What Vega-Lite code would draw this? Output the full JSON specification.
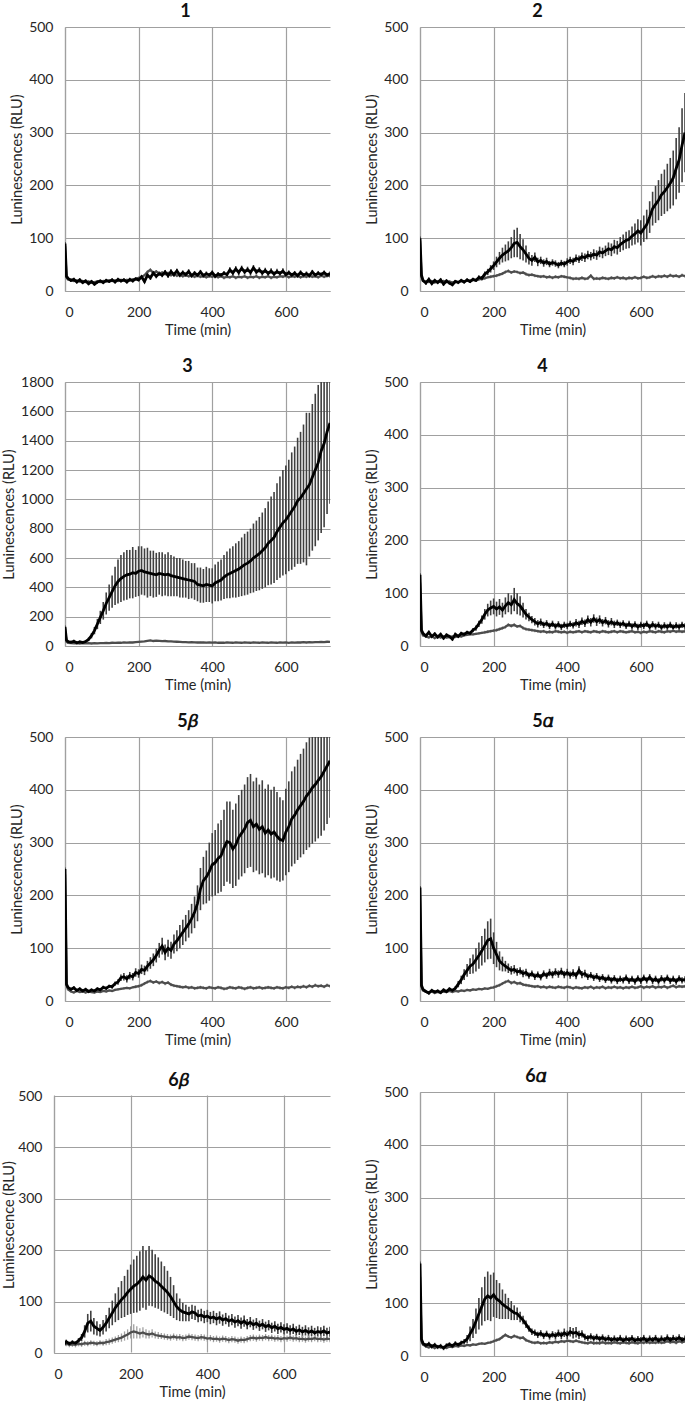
{
"$schema": "https://vega.github.io/schema/vega-lite/v6.json",
"padding": {"left": 1, "top": 3, "right": 0, "bottom": 0},
"config": {
 "view": {"stroke": null},
 "font": "Lato",
 "axis": {"grid": true, "gridColor": "#a0a0a0", "gridWidth": 1.2, "domainColor": "#a0a0a0", "domainWidth": 1.2, "ticks": false, "labelFont": "Lato", "labelFontSize": 14, "labelColor": "#262626", "labelOverlap": false, "titleFont": "Lato", "titleFontSize": 14.5, "titleFontWeight": "normal", "titleColor": "#262626"},
 "axisX": {"labelPadding": 14, "titlePadding": 4},
 "axisY": {"labelPadding": 12, "titlePadding": 4},
 "title": {"font": "Lato", "fontSize": 18, "fontWeight": "bold", "color": "#111111", "offset": -1, "anchor": "middle"}
},
"datasets": {
"p1": [
{"t":0,"m":90,"e":3,"g":85,"h":3},{"t":4,"m":28,"e":3,"g":26,"h":3},{"t":8,"m":24,"e":3,"g":22,"h":2},{"t":16,"m":20,"e":3,"g":21,"h":2},{"t":24,"m":22,"e":3,"g":19,"h":2},{"t":32,"m":17,"e":3,"g":20,"h":2},{"t":40,"m":21,"e":3,"g":18,"h":2},{"t":48,"m":16,"e":3,"g":19,"h":2},{"t":56,"m":19,"e":3,"g":17,"h":2},{"t":64,"m":14,"e":3,"g":18,"h":2},{"t":72,"m":18,"e":3,"g":16,"h":2},{"t":80,"m":13,"e":3,"g":17,"h":2},{"t":88,"m":17,"e":3,"g":18,"h":2},{"t":96,"m":19,"e":3,"g":17,"h":2},{"t":104,"m":16,"e":3,"g":19,"h":2},{"t":112,"m":20,"e":3,"g":18,"h":2},{"t":120,"m":18,"e":3,"g":20,"h":2},{"t":128,"m":21,"e":3,"g":19,"h":2},{"t":136,"m":17,"e":3,"g":20,"h":2},{"t":144,"m":22,"e":3,"g":19,"h":2},{"t":152,"m":19,"e":3,"g":21,"h":2},{"t":160,"m":21,"e":3,"g":20,"h":2},{"t":168,"m":17,"e":3,"g":21,"h":2},{"t":176,"m":22,"e":3,"g":20,"h":2},{"t":184,"m":19,"e":3,"g":22,"h":2},{"t":192,"m":23,"e":3,"g":23,"h":2},{"t":200,"m":21,"e":3,"g":25,"h":2},{"t":208,"m":27,"e":3,"g":26,"h":2},{"t":216,"m":18,"e":3,"g":30,"h":2},{"t":224,"m":30,"e":4,"g":36,"h":3},{"t":232,"m":25,"e":4,"g":40,"h":3},{"t":240,"m":34,"e":4,"g":34,"h":3},{"t":248,"m":28,"e":4,"g":37,"h":3},{"t":256,"m":33,"e":4,"g":33,"h":3},{"t":264,"m":30,"e":4,"g":35,"h":3},{"t":272,"m":36,"e":4,"g":32,"h":3},{"t":280,"m":29,"e":4,"g":34,"h":3},{"t":288,"m":37,"e":4,"g":30,"h":3},{"t":296,"m":31,"e":4,"g":32,"h":3},{"t":304,"m":38,"e":4,"g":29,"h":3},{"t":312,"m":30,"e":4,"g":31,"h":3},{"t":320,"m":35,"e":4,"g":28,"h":3},{"t":328,"m":31,"e":4,"g":30,"h":3},{"t":336,"m":37,"e":4,"g":28,"h":3},{"t":344,"m":29,"e":4,"g":29,"h":3},{"t":352,"m":34,"e":4,"g":27,"h":3},{"t":360,"m":30,"e":4,"g":29,"h":3},{"t":368,"m":36,"e":4,"g":27,"h":3},{"t":376,"m":29,"e":4,"g":28,"h":3},{"t":384,"m":33,"e":4,"g":26,"h":3},{"t":392,"m":30,"e":4,"g":28,"h":3},{"t":400,"m":35,"e":4,"g":27,"h":3},{"t":408,"m":28,"e":4,"g":29,"h":3},{"t":416,"m":32,"e":4,"g":26,"h":3},{"t":424,"m":30,"e":4,"g":28,"h":3},{"t":432,"m":34,"e":4,"g":25,"h":3},{"t":440,"m":31,"e":4,"g":27,"h":3},{"t":448,"m":40,"e":5,"g":26,"h":3},{"t":456,"m":34,"e":5,"g":28,"h":3},{"t":464,"m":42,"e":5,"g":25,"h":3},{"t":472,"m":35,"e":5,"g":27,"h":3},{"t":480,"m":43,"e":5,"g":26,"h":3},{"t":488,"m":36,"e":5,"g":28,"h":3},{"t":496,"m":41,"e":5,"g":25,"h":3},{"t":504,"m":35,"e":5,"g":27,"h":3},{"t":512,"m":44,"e":5,"g":26,"h":3},{"t":520,"m":36,"e":5,"g":28,"h":3},{"t":528,"m":40,"e":5,"g":25,"h":3},{"t":536,"m":34,"e":5,"g":27,"h":3},{"t":544,"m":39,"e":5,"g":26,"h":3},{"t":552,"m":33,"e":5,"g":28,"h":3},{"t":560,"m":38,"e":5,"g":25,"h":3},{"t":568,"m":32,"e":5,"g":27,"h":3},{"t":576,"m":37,"e":5,"g":26,"h":3},{"t":584,"m":33,"e":5,"g":28,"h":3},{"t":592,"m":38,"e":5,"g":27,"h":3},{"t":600,"m":31,"e":5,"g":29,"h":3},{"t":608,"m":35,"e":4,"g":26,"h":3},{"t":616,"m":30,"e":4,"g":28,"h":3},{"t":624,"m":34,"e":4,"g":27,"h":3},{"t":632,"m":29,"e":4,"g":29,"h":3},{"t":640,"m":35,"e":4,"g":26,"h":3},{"t":648,"m":30,"e":4,"g":28,"h":3},{"t":656,"m":33,"e":4,"g":27,"h":3},{"t":664,"m":29,"e":4,"g":29,"h":3},{"t":672,"m":36,"e":4,"g":27,"h":3},{"t":680,"m":30,"e":4,"g":28,"h":3},{"t":688,"m":34,"e":4,"g":26,"h":3},{"t":696,"m":31,"e":4,"g":29,"h":3},{"t":704,"m":35,"e":4,"g":27,"h":3},{"t":712,"m":30,"e":4,"g":29,"h":3},{"t":720,"m":33,"e":4,"g":28,"h":3}
],
"p2": [
{"t":0,"m":100,"e":3,"g":95,"h":3},{"t":4,"m":30,"e":3,"g":28,"h":3},{"t":8,"m":20,"e":3,"g":20,"h":2},{"t":16,"m":15,"e":3,"g":18,"h":2},{"t":24,"m":22,"e":3,"g":17,"h":2},{"t":32,"m":14,"e":3,"g":19,"h":2},{"t":40,"m":20,"e":3,"g":16,"h":2},{"t":48,"m":16,"e":3,"g":18,"h":2},{"t":56,"m":21,"e":3,"g":17,"h":2},{"t":64,"m":13,"e":3,"g":19,"h":2},{"t":72,"m":19,"e":3,"g":17,"h":2},{"t":80,"m":15,"e":3,"g":18,"h":2},{"t":88,"m":12,"e":3,"g":16,"h":2},{"t":96,"m":18,"e":3,"g":18,"h":2},{"t":104,"m":16,"e":3,"g":17,"h":2},{"t":112,"m":20,"e":3,"g":19,"h":2},{"t":120,"m":17,"e":3,"g":18,"h":2},{"t":128,"m":21,"e":3,"g":20,"h":2},{"t":136,"m":18,"e":3,"g":19,"h":2},{"t":144,"m":22,"e":3,"g":21,"h":2},{"t":152,"m":20,"e":3,"g":20,"h":2},{"t":160,"m":26,"e":4,"g":22,"h":2},{"t":168,"m":24,"e":4,"g":23,"h":2},{"t":176,"m":32,"e":5,"g":24,"h":2},{"t":184,"m":36,"e":6,"g":26,"h":2},{"t":192,"m":42,"e":7,"g":27,"h":3},{"t":200,"m":48,"e":8,"g":28,"h":3},{"t":208,"m":55,"e":10,"g":29,"h":3},{"t":216,"m":62,"e":12,"g":31,"h":3},{"t":224,"m":68,"e":14,"g":33,"h":3},{"t":232,"m":72,"e":16,"g":36,"h":3},{"t":240,"m":76,"e":18,"g":38,"h":3},{"t":248,"m":82,"e":20,"g":35,"h":3},{"t":256,"m":90,"e":26,"g":37,"h":3},{"t":264,"m":92,"e":28,"g":36,"h":3},{"t":272,"m":84,"e":24,"g":34,"h":3},{"t":280,"m":78,"e":20,"g":35,"h":3},{"t":288,"m":70,"e":16,"g":32,"h":3},{"t":296,"m":62,"e":12,"g":30,"h":3},{"t":304,"m":58,"e":10,"g":31,"h":3},{"t":312,"m":64,"e":9,"g":29,"h":3},{"t":320,"m":55,"e":8,"g":28,"h":3},{"t":328,"m":58,"e":7,"g":27,"h":3},{"t":336,"m":53,"e":7,"g":28,"h":3},{"t":344,"m":56,"e":7,"g":26,"h":3},{"t":352,"m":51,"e":6,"g":27,"h":3},{"t":360,"m":54,"e":6,"g":25,"h":3},{"t":368,"m":52,"e":6,"g":27,"h":3},{"t":376,"m":49,"e":6,"g":26,"h":3},{"t":384,"m":53,"e":6,"g":28,"h":3},{"t":392,"m":51,"e":6,"g":27,"h":3},{"t":400,"m":55,"e":7,"g":26,"h":3},{"t":408,"m":58,"e":7,"g":25,"h":3},{"t":416,"m":56,"e":7,"g":23,"h":3},{"t":424,"m":62,"e":7,"g":24,"h":3},{"t":432,"m":60,"e":7,"g":23,"h":3},{"t":440,"m":65,"e":8,"g":25,"h":3},{"t":448,"m":63,"e":8,"g":23,"h":3},{"t":456,"m":68,"e":8,"g":24,"h":3},{"t":464,"m":66,"e":8,"g":29,"h":3},{"t":472,"m":70,"e":9,"g":23,"h":3},{"t":480,"m":68,"e":9,"g":24,"h":3},{"t":488,"m":74,"e":10,"g":23,"h":3},{"t":496,"m":72,"e":10,"g":25,"h":3},{"t":504,"m":76,"e":10,"g":24,"h":3},{"t":512,"m":80,"e":12,"g":23,"h":3},{"t":520,"m":78,"e":12,"g":25,"h":3},{"t":528,"m":84,"e":13,"g":24,"h":3},{"t":536,"m":82,"e":13,"g":26,"h":3},{"t":544,"m":88,"e":14,"g":24,"h":3},{"t":552,"m":92,"e":15,"g":25,"h":3},{"t":560,"m":96,"e":16,"g":23,"h":3},{"t":568,"m":98,"e":17,"g":25,"h":3},{"t":576,"m":104,"e":18,"g":24,"h":3},{"t":584,"m":108,"e":20,"g":26,"h":3},{"t":592,"m":114,"e":22,"g":24,"h":3},{"t":600,"m":110,"e":24,"g":25,"h":3},{"t":608,"m":118,"e":25,"g":27,"h":3},{"t":616,"m":126,"e":28,"g":25,"h":3},{"t":624,"m":140,"e":30,"g":26,"h":3},{"t":632,"m":156,"e":32,"g":28,"h":3},{"t":640,"m":164,"e":35,"g":26,"h":3},{"t":648,"m":172,"e":38,"g":28,"h":3},{"t":656,"m":182,"e":40,"g":27,"h":3},{"t":664,"m":188,"e":42,"g":29,"h":3},{"t":672,"m":196,"e":45,"g":27,"h":3},{"t":680,"m":204,"e":48,"g":30,"h":3},{"t":688,"m":214,"e":52,"g":28,"h":3},{"t":696,"m":232,"e":58,"g":29,"h":3},{"t":704,"m":248,"e":62,"g":27,"h":3},{"t":712,"m":276,"e":70,"g":30,"h":3},{"t":720,"m":300,"e":75,"g":28,"h":3}
],
"p3": [
{"t":0,"m":130,"e":10,"g":120,"h":5},{"t":4,"m":40,"e":10,"g":30,"h":5},{"t":8,"m":30,"e":10,"g":22,"h":4},{"t":16,"m":25,"e":10,"g":20,"h":4},{"t":24,"m":32,"e":10,"g":18,"h":4},{"t":32,"m":22,"e":10,"g":20,"h":4},{"t":40,"m":28,"e":10,"g":17,"h":4},{"t":48,"m":24,"e":10,"g":19,"h":4},{"t":56,"m":30,"e":10,"g":18,"h":4},{"t":64,"m":45,"e":12,"g":20,"h":4},{"t":72,"m":70,"e":18,"g":17,"h":4},{"t":80,"m":105,"e":25,"g":19,"h":4},{"t":88,"m":150,"e":35,"g":18,"h":4},{"t":96,"m":195,"e":45,"g":20,"h":4},{"t":104,"m":240,"e":60,"g":19,"h":4},{"t":112,"m":290,"e":75,"g":21,"h":4},{"t":120,"m":330,"e":90,"g":20,"h":4},{"t":128,"m":370,"e":110,"g":22,"h":4},{"t":136,"m":410,"e":130,"g":21,"h":4},{"t":144,"m":440,"e":150,"g":23,"h":4},{"t":152,"m":460,"e":160,"g":22,"h":4},{"t":160,"m":475,"e":165,"g":24,"h":4},{"t":168,"m":485,"e":170,"g":23,"h":4},{"t":176,"m":490,"e":165,"g":25,"h":4},{"t":184,"m":500,"e":175,"g":24,"h":4},{"t":192,"m":495,"e":160,"g":26,"h":4},{"t":200,"m":510,"e":170,"g":28,"h":4},{"t":208,"m":515,"e":165,"g":30,"h":4},{"t":216,"m":505,"e":160,"g":32,"h":4},{"t":224,"m":500,"e":170,"g":35,"h":4},{"t":232,"m":495,"e":155,"g":38,"h":4},{"t":240,"m":490,"e":160,"g":34,"h":4},{"t":248,"m":485,"e":150,"g":36,"h":4},{"t":256,"m":495,"e":145,"g":35,"h":4},{"t":264,"m":490,"e":150,"g":33,"h":4},{"t":272,"m":485,"e":140,"g":34,"h":4},{"t":280,"m":490,"e":150,"g":32,"h":4},{"t":288,"m":480,"e":140,"g":31,"h":4},{"t":296,"m":475,"e":135,"g":30,"h":4},{"t":304,"m":470,"e":130,"g":29,"h":4},{"t":312,"m":465,"e":135,"g":28,"h":4},{"t":320,"m":460,"e":130,"g":27,"h":4},{"t":328,"m":455,"e":125,"g":26,"h":4},{"t":336,"m":450,"e":130,"g":25,"h":4},{"t":344,"m":445,"e":120,"g":26,"h":4},{"t":352,"m":440,"e":125,"g":25,"h":4},{"t":360,"m":420,"e":115,"g":24,"h":4},{"t":368,"m":415,"e":120,"g":25,"h":4},{"t":376,"m":410,"e":115,"g":24,"h":4},{"t":384,"m":420,"e":120,"g":23,"h":4},{"t":392,"m":415,"e":115,"g":24,"h":4},{"t":400,"m":410,"e":120,"g":23,"h":4},{"t":408,"m":430,"e":125,"g":24,"h":4},{"t":416,"m":440,"e":135,"g":22,"h":4},{"t":424,"m":450,"e":140,"g":23,"h":4},{"t":432,"m":470,"e":150,"g":22,"h":4},{"t":440,"m":485,"e":160,"g":24,"h":4},{"t":448,"m":495,"e":170,"g":23,"h":4},{"t":456,"m":505,"e":175,"g":22,"h":4},{"t":464,"m":515,"e":185,"g":24,"h":4},{"t":472,"m":525,"e":190,"g":23,"h":4},{"t":480,"m":540,"e":200,"g":22,"h":4},{"t":488,"m":555,"e":210,"g":24,"h":4},{"t":496,"m":565,"e":215,"g":23,"h":4},{"t":504,"m":580,"e":220,"g":22,"h":4},{"t":512,"m":600,"e":235,"g":24,"h":4},{"t":520,"m":615,"e":240,"g":23,"h":4},{"t":528,"m":630,"e":250,"g":22,"h":4},{"t":536,"m":650,"e":260,"g":24,"h":4},{"t":544,"m":670,"e":270,"g":23,"h":4},{"t":552,"m":700,"e":285,"g":22,"h":4},{"t":560,"m":720,"e":300,"g":24,"h":4},{"t":568,"m":740,"e":310,"g":23,"h":4},{"t":576,"m":780,"e":330,"g":22,"h":4},{"t":584,"m":810,"e":345,"g":24,"h":4},{"t":592,"m":840,"e":360,"g":23,"h":4},{"t":600,"m":860,"e":370,"g":24,"h":4},{"t":608,"m":890,"e":380,"g":22,"h":4},{"t":616,"m":920,"e":400,"g":24,"h":4},{"t":624,"m":950,"e":410,"g":23,"h":4},{"t":632,"m":990,"e":430,"g":25,"h":4},{"t":640,"m":1010,"e":450,"g":24,"h":4},{"t":648,"m":1040,"e":470,"g":26,"h":4},{"t":656,"m":1070,"e":520,"g":24,"h":4},{"t":664,"m":1100,"e":490,"g":26,"h":4},{"t":672,"m":1150,"e":500,"g":25,"h":4},{"t":680,"m":1200,"e":520,"g":27,"h":4},{"t":688,"m":1250,"e":530,"g":26,"h":4},{"t":696,"m":1330,"e":560,"g":28,"h":4},{"t":704,"m":1380,"e":570,"g":27,"h":4},{"t":712,"m":1460,"e":560,"g":29,"h":4},{"t":720,"m":1520,"e":550,"g":28,"h":4}
],
"p4": [
{"t":0,"m":135,"e":3,"g":120,"h":3},{"t":4,"m":30,"e":3,"g":28,"h":3},{"t":8,"m":24,"e":3,"g":20,"h":2},{"t":16,"m":19,"e":3,"g":18,"h":2},{"t":24,"m":26,"e":3,"g":16,"h":2},{"t":32,"m":18,"e":3,"g":19,"h":2},{"t":40,"m":23,"e":3,"g":15,"h":2},{"t":48,"m":17,"e":3,"g":18,"h":2},{"t":56,"m":22,"e":3,"g":16,"h":2},{"t":64,"m":15,"e":3,"g":18,"h":2},{"t":72,"m":21,"e":3,"g":16,"h":2},{"t":80,"m":18,"e":3,"g":17,"h":2},{"t":88,"m":13,"e":3,"g":18,"h":2},{"t":96,"m":22,"e":3,"g":17,"h":2},{"t":104,"m":18,"e":3,"g":19,"h":2},{"t":112,"m":24,"e":3,"g":18,"h":2},{"t":120,"m":22,"e":3,"g":20,"h":2},{"t":128,"m":26,"e":3,"g":21,"h":2},{"t":136,"m":24,"e":3,"g":22,"h":2},{"t":144,"m":30,"e":4,"g":22,"h":2},{"t":152,"m":34,"e":5,"g":23,"h":2},{"t":160,"m":42,"e":6,"g":24,"h":2},{"t":168,"m":50,"e":8,"g":25,"h":2},{"t":176,"m":60,"e":10,"g":26,"h":3},{"t":184,"m":68,"e":12,"g":27,"h":3},{"t":192,"m":72,"e":14,"g":28,"h":3},{"t":200,"m":75,"e":15,"g":29,"h":3},{"t":208,"m":70,"e":14,"g":30,"h":3},{"t":216,"m":74,"e":15,"g":32,"h":3},{"t":224,"m":68,"e":14,"g":34,"h":3},{"t":232,"m":76,"e":16,"g":36,"h":3},{"t":240,"m":82,"e":18,"g":40,"h":3},{"t":248,"m":78,"e":18,"g":38,"h":3},{"t":256,"m":88,"e":22,"g":40,"h":3},{"t":264,"m":80,"e":20,"g":37,"h":3},{"t":272,"m":76,"e":18,"g":38,"h":3},{"t":280,"m":68,"e":14,"g":34,"h":3},{"t":288,"m":60,"e":10,"g":32,"h":3},{"t":296,"m":55,"e":8,"g":31,"h":3},{"t":304,"m":50,"e":7,"g":30,"h":3},{"t":312,"m":46,"e":7,"g":29,"h":3},{"t":320,"m":42,"e":7,"g":28,"h":3},{"t":328,"m":45,"e":7,"g":27,"h":3},{"t":336,"m":40,"e":6,"g":28,"h":3},{"t":344,"m":43,"e":6,"g":26,"h":3},{"t":352,"m":38,"e":6,"g":27,"h":3},{"t":360,"m":42,"e":6,"g":26,"h":3},{"t":368,"m":37,"e":6,"g":28,"h":3},{"t":376,"m":41,"e":6,"g":27,"h":3},{"t":384,"m":36,"e":6,"g":26,"h":3},{"t":392,"m":40,"e":6,"g":27,"h":3},{"t":400,"m":38,"e":6,"g":25,"h":3},{"t":408,"m":42,"e":6,"g":27,"h":3},{"t":416,"m":39,"e":6,"g":26,"h":3},{"t":424,"m":44,"e":7,"g":27,"h":3},{"t":432,"m":41,"e":7,"g":28,"h":3},{"t":440,"m":47,"e":7,"g":26,"h":3},{"t":448,"m":43,"e":7,"g":28,"h":3},{"t":456,"m":50,"e":8,"g":27,"h":3},{"t":464,"m":45,"e":8,"g":26,"h":3},{"t":472,"m":52,"e":8,"g":28,"h":3},{"t":480,"m":46,"e":8,"g":27,"h":3},{"t":488,"m":50,"e":8,"g":26,"h":3},{"t":496,"m":44,"e":7,"g":28,"h":3},{"t":504,"m":48,"e":7,"g":27,"h":3},{"t":512,"m":42,"e":7,"g":26,"h":3},{"t":520,"m":46,"e":7,"g":27,"h":3},{"t":528,"m":41,"e":7,"g":28,"h":3},{"t":536,"m":44,"e":6,"g":26,"h":3},{"t":544,"m":40,"e":6,"g":28,"h":3},{"t":552,"m":43,"e":6,"g":27,"h":3},{"t":560,"m":38,"e":6,"g":26,"h":3},{"t":568,"m":42,"e":6,"g":27,"h":3},{"t":576,"m":37,"e":6,"g":28,"h":3},{"t":584,"m":41,"e":6,"g":26,"h":3},{"t":592,"m":36,"e":6,"g":27,"h":3},{"t":600,"m":40,"e":6,"g":25,"h":3},{"t":608,"m":38,"e":6,"g":27,"h":3},{"t":616,"m":42,"e":6,"g":26,"h":3},{"t":624,"m":36,"e":6,"g":28,"h":3},{"t":632,"m":41,"e":6,"g":27,"h":3},{"t":640,"m":37,"e":6,"g":26,"h":3},{"t":648,"m":40,"e":6,"g":28,"h":3},{"t":656,"m":35,"e":6,"g":27,"h":3},{"t":664,"m":39,"e":6,"g":26,"h":3},{"t":672,"m":36,"e":6,"g":28,"h":3},{"t":680,"m":40,"e":6,"g":27,"h":3},{"t":688,"m":35,"e":6,"g":29,"h":3},{"t":696,"m":39,"e":6,"g":27,"h":3},{"t":704,"m":36,"e":6,"g":28,"h":3},{"t":712,"m":40,"e":6,"g":27,"h":3},{"t":720,"m":37,"e":6,"g":28,"h":3}
],
"p5b": [
{"t":0,"m":250,"e":3,"g":240,"h":3},{"t":4,"m":32,"e":3,"g":30,"h":3},{"t":8,"m":26,"e":3,"g":22,"h":2},{"t":16,"m":22,"e":3,"g":18,"h":2},{"t":24,"m":25,"e":3,"g":16,"h":2},{"t":32,"m":20,"e":3,"g":19,"h":2},{"t":40,"m":23,"e":3,"g":17,"h":2},{"t":48,"m":19,"e":3,"g":18,"h":2},{"t":56,"m":22,"e":3,"g":16,"h":2},{"t":64,"m":18,"e":3,"g":18,"h":2},{"t":72,"m":21,"e":3,"g":17,"h":2},{"t":80,"m":19,"e":3,"g":16,"h":2},{"t":88,"m":23,"e":3,"g":18,"h":2},{"t":96,"m":21,"e":3,"g":17,"h":2},{"t":104,"m":26,"e":3,"g":19,"h":2},{"t":112,"m":24,"e":3,"g":18,"h":2},{"t":120,"m":28,"e":3,"g":20,"h":2},{"t":128,"m":27,"e":4,"g":19,"h":2},{"t":136,"m":33,"e":4,"g":21,"h":2},{"t":144,"m":36,"e":5,"g":22,"h":2},{"t":152,"m":44,"e":6,"g":23,"h":2},{"t":160,"m":46,"e":7,"g":24,"h":2},{"t":168,"m":42,"e":7,"g":25,"h":2},{"t":176,"m":48,"e":7,"g":24,"h":2},{"t":184,"m":46,"e":7,"g":26,"h":2},{"t":192,"m":54,"e":8,"g":27,"h":3},{"t":200,"m":52,"e":8,"g":28,"h":3},{"t":208,"m":60,"e":9,"g":30,"h":3},{"t":216,"m":58,"e":9,"g":33,"h":3},{"t":224,"m":66,"e":10,"g":36,"h":3},{"t":232,"m":72,"e":11,"g":38,"h":3},{"t":240,"m":78,"e":12,"g":35,"h":3},{"t":248,"m":86,"e":13,"g":37,"h":3},{"t":256,"m":96,"e":14,"g":34,"h":3},{"t":264,"m":104,"e":16,"g":36,"h":3},{"t":272,"m":92,"e":15,"g":33,"h":3},{"t":280,"m":100,"e":16,"g":35,"h":3},{"t":288,"m":96,"e":16,"g":31,"h":3},{"t":296,"m":108,"e":18,"g":29,"h":3},{"t":304,"m":114,"e":20,"g":28,"h":3},{"t":312,"m":122,"e":22,"g":27,"h":3},{"t":320,"m":130,"e":24,"g":26,"h":3},{"t":328,"m":138,"e":25,"g":27,"h":3},{"t":336,"m":146,"e":26,"g":25,"h":3},{"t":344,"m":156,"e":28,"g":26,"h":3},{"t":352,"m":168,"e":30,"g":24,"h":3},{"t":360,"m":185,"e":34,"g":25,"h":3},{"t":368,"m":212,"e":40,"g":26,"h":3},{"t":376,"m":228,"e":45,"g":25,"h":3},{"t":384,"m":235,"e":50,"g":24,"h":3},{"t":392,"m":245,"e":55,"g":26,"h":3},{"t":400,"m":258,"e":60,"g":25,"h":3},{"t":408,"m":262,"e":62,"g":24,"h":3},{"t":416,"m":270,"e":66,"g":26,"h":3},{"t":424,"m":275,"e":68,"g":25,"h":3},{"t":432,"m":290,"e":72,"g":23,"h":3},{"t":440,"m":302,"e":76,"g":24,"h":3},{"t":448,"m":300,"e":78,"g":26,"h":3},{"t":456,"m":288,"e":74,"g":25,"h":3},{"t":464,"m":296,"e":78,"g":24,"h":3},{"t":472,"m":310,"e":80,"g":26,"h":3},{"t":480,"m":318,"e":82,"g":25,"h":3},{"t":488,"m":326,"e":84,"g":23,"h":3},{"t":496,"m":338,"e":86,"g":25,"h":3},{"t":504,"m":342,"e":88,"g":26,"h":3},{"t":512,"m":330,"e":86,"g":24,"h":3},{"t":520,"m":335,"e":88,"g":25,"h":3},{"t":528,"m":325,"e":85,"g":26,"h":3},{"t":536,"m":330,"e":88,"g":24,"h":3},{"t":544,"m":318,"e":84,"g":25,"h":3},{"t":552,"m":324,"e":86,"g":26,"h":3},{"t":560,"m":316,"e":84,"g":25,"h":3},{"t":568,"m":320,"e":86,"g":24,"h":3},{"t":576,"m":312,"e":84,"g":26,"h":3},{"t":584,"m":306,"e":80,"g":25,"h":3},{"t":592,"m":304,"e":76,"g":24,"h":3},{"t":600,"m":320,"e":82,"g":26,"h":3},{"t":608,"m":330,"e":86,"g":25,"h":3},{"t":616,"m":345,"e":90,"g":27,"h":3},{"t":624,"m":352,"e":92,"g":25,"h":3},{"t":632,"m":362,"e":95,"g":27,"h":3},{"t":640,"m":370,"e":98,"g":26,"h":3},{"t":648,"m":378,"e":100,"g":28,"h":3},{"t":656,"m":388,"e":102,"g":26,"h":3},{"t":664,"m":395,"e":104,"g":29,"h":3},{"t":672,"m":404,"e":106,"g":27,"h":3},{"t":680,"m":410,"e":108,"g":30,"h":3},{"t":688,"m":418,"e":110,"g":28,"h":3},{"t":696,"m":425,"e":112,"g":29,"h":3},{"t":704,"m":435,"e":112,"g":27,"h":3},{"t":712,"m":445,"e":110,"g":30,"h":3},{"t":720,"m":455,"e":108,"g":28,"h":3}
],
"p5a": [
{"t":0,"m":215,"e":3,"g":200,"h":3},{"t":4,"m":30,"e":3,"g":28,"h":3},{"t":8,"m":22,"e":3,"g":20,"h":2},{"t":16,"m":18,"e":3,"g":17,"h":2},{"t":24,"m":15,"e":3,"g":16,"h":2},{"t":32,"m":20,"e":3,"g":18,"h":2},{"t":40,"m":17,"e":3,"g":15,"h":2},{"t":48,"m":19,"e":3,"g":17,"h":2},{"t":56,"m":16,"e":3,"g":16,"h":2},{"t":64,"m":21,"e":3,"g":18,"h":2},{"t":72,"m":18,"e":3,"g":17,"h":2},{"t":80,"m":23,"e":3,"g":19,"h":2},{"t":88,"m":20,"e":3,"g":17,"h":2},{"t":96,"m":24,"e":4,"g":19,"h":2},{"t":104,"m":32,"e":6,"g":18,"h":2},{"t":112,"m":40,"e":8,"g":20,"h":2},{"t":120,"m":50,"e":10,"g":19,"h":2},{"t":128,"m":58,"e":12,"g":21,"h":2},{"t":136,"m":66,"e":15,"g":20,"h":2},{"t":144,"m":70,"e":18,"g":22,"h":2},{"t":152,"m":78,"e":22,"g":21,"h":2},{"t":160,"m":86,"e":25,"g":23,"h":2},{"t":168,"m":95,"e":28,"g":22,"h":2},{"t":176,"m":105,"e":32,"g":24,"h":2},{"t":184,"m":115,"e":36,"g":23,"h":2},{"t":192,"m":118,"e":38,"g":25,"h":2},{"t":200,"m":100,"e":30,"g":26,"h":3},{"t":208,"m":88,"e":24,"g":28,"h":3},{"t":216,"m":76,"e":18,"g":30,"h":3},{"t":224,"m":70,"e":14,"g":33,"h":3},{"t":232,"m":66,"e":10,"g":36,"h":3},{"t":240,"m":62,"e":9,"g":38,"h":3},{"t":248,"m":58,"e":8,"g":34,"h":3},{"t":256,"m":60,"e":8,"g":36,"h":3},{"t":264,"m":55,"e":7,"g":33,"h":3},{"t":272,"m":57,"e":7,"g":34,"h":3},{"t":280,"m":52,"e":7,"g":31,"h":3},{"t":288,"m":54,"e":7,"g":30,"h":3},{"t":296,"m":48,"e":6,"g":29,"h":3},{"t":304,"m":52,"e":6,"g":28,"h":3},{"t":312,"m":46,"e":6,"g":27,"h":3},{"t":320,"m":50,"e":6,"g":28,"h":3},{"t":328,"m":45,"e":6,"g":26,"h":3},{"t":336,"m":52,"e":6,"g":27,"h":3},{"t":344,"m":48,"e":6,"g":25,"h":3},{"t":352,"m":54,"e":7,"g":27,"h":3},{"t":360,"m":50,"e":7,"g":26,"h":3},{"t":368,"m":55,"e":7,"g":25,"h":3},{"t":376,"m":51,"e":7,"g":27,"h":3},{"t":384,"m":56,"e":7,"g":26,"h":3},{"t":392,"m":50,"e":7,"g":25,"h":3},{"t":400,"m":54,"e":7,"g":27,"h":3},{"t":408,"m":49,"e":7,"g":26,"h":3},{"t":416,"m":53,"e":7,"g":24,"h":3},{"t":424,"m":48,"e":7,"g":26,"h":3},{"t":432,"m":58,"e":8,"g":25,"h":3},{"t":440,"m":50,"e":7,"g":24,"h":3},{"t":448,"m":52,"e":7,"g":26,"h":3},{"t":456,"m":46,"e":6,"g":25,"h":3},{"t":464,"m":49,"e":6,"g":27,"h":3},{"t":472,"m":44,"e":6,"g":24,"h":3},{"t":480,"m":47,"e":6,"g":26,"h":3},{"t":488,"m":42,"e":6,"g":25,"h":3},{"t":496,"m":45,"e":6,"g":27,"h":3},{"t":504,"m":40,"e":6,"g":24,"h":3},{"t":512,"m":44,"e":6,"g":26,"h":3},{"t":520,"m":39,"e":6,"g":25,"h":3},{"t":528,"m":43,"e":6,"g":27,"h":3},{"t":536,"m":38,"e":6,"g":25,"h":3},{"t":544,"m":42,"e":6,"g":26,"h":3},{"t":552,"m":39,"e":6,"g":24,"h":3},{"t":560,"m":44,"e":6,"g":26,"h":3},{"t":568,"m":38,"e":6,"g":25,"h":3},{"t":576,"m":42,"e":6,"g":27,"h":3},{"t":584,"m":37,"e":6,"g":25,"h":3},{"t":592,"m":43,"e":6,"g":26,"h":3},{"t":600,"m":38,"e":6,"g":28,"h":3},{"t":608,"m":44,"e":6,"g":25,"h":3},{"t":616,"m":39,"e":6,"g":27,"h":3},{"t":624,"m":45,"e":6,"g":26,"h":3},{"t":632,"m":38,"e":6,"g":28,"h":3},{"t":640,"m":42,"e":6,"g":25,"h":3},{"t":648,"m":37,"e":6,"g":27,"h":3},{"t":656,"m":43,"e":6,"g":26,"h":3},{"t":664,"m":39,"e":6,"g":28,"h":3},{"t":672,"m":44,"e":6,"g":25,"h":3},{"t":680,"m":38,"e":6,"g":27,"h":3},{"t":688,"m":42,"e":6,"g":29,"h":3},{"t":696,"m":37,"e":6,"g":26,"h":3},{"t":704,"m":43,"e":6,"g":28,"h":3},{"t":712,"m":39,"e":6,"g":27,"h":3},{"t":720,"m":41,"e":6,"g":28,"h":3}
],
"p6b": [
{"t":0,"m":145,"e":4,"g":100,"h":6},{"t":4,"m":30,"e":4,"g":28,"h":6},{"t":8,"m":24,"e":4,"g":20,"h":5},{"t":16,"m":20,"e":4,"g":17,"h":5},{"t":24,"m":16,"e":4,"g":15,"h":5},{"t":32,"m":22,"e":4,"g":18,"h":5},{"t":40,"m":18,"e":4,"g":16,"h":5},{"t":48,"m":21,"e":4,"g":17,"h":5},{"t":56,"m":19,"e":4,"g":16,"h":5},{"t":64,"m":24,"e":5,"g":18,"h":5},{"t":72,"m":30,"e":7,"g":17,"h":5},{"t":80,"m":42,"e":12,"g":19,"h":5},{"t":88,"m":58,"e":18,"g":18,"h":5},{"t":96,"m":62,"e":20,"g":20,"h":5},{"t":104,"m":52,"e":16,"g":19,"h":5},{"t":112,"m":48,"e":14,"g":18,"h":5},{"t":120,"m":44,"e":12,"g":20,"h":5},{"t":128,"m":50,"e":14,"g":19,"h":5},{"t":136,"m":58,"e":16,"g":21,"h":6},{"t":144,"m":68,"e":20,"g":22,"h":6},{"t":152,"m":78,"e":24,"g":24,"h":6},{"t":160,"m":88,"e":28,"g":26,"h":6},{"t":168,"m":96,"e":32,"g":28,"h":7},{"t":176,"m":104,"e":36,"g":30,"h":8},{"t":184,"m":110,"e":40,"g":33,"h":9},{"t":192,"m":118,"e":44,"g":36,"h":10},{"t":200,"m":124,"e":48,"g":40,"h":12},{"t":208,"m":130,"e":52,"g":42,"h":14},{"t":216,"m":134,"e":55,"g":40,"h":12},{"t":224,"m":140,"e":58,"g":38,"h":10},{"t":232,"m":148,"e":60,"g":40,"h":10},{"t":240,"m":142,"e":58,"g":37,"h":9},{"t":248,"m":150,"e":58,"g":36,"h":8},{"t":256,"m":146,"e":55,"g":38,"h":8},{"t":264,"m":140,"e":52,"g":35,"h":7},{"t":272,"m":136,"e":50,"g":34,"h":7},{"t":280,"m":130,"e":48,"g":33,"h":6},{"t":288,"m":124,"e":45,"g":32,"h":6},{"t":296,"m":118,"e":42,"g":31,"h":6},{"t":304,"m":110,"e":38,"g":30,"h":6},{"t":312,"m":100,"e":32,"g":32,"h":6},{"t":320,"m":90,"e":26,"g":30,"h":6},{"t":328,"m":84,"e":22,"g":31,"h":6},{"t":336,"m":80,"e":18,"g":29,"h":6},{"t":344,"m":78,"e":16,"g":30,"h":6},{"t":352,"m":76,"e":14,"g":32,"h":6},{"t":360,"m":80,"e":14,"g":31,"h":6},{"t":368,"m":78,"e":14,"g":30,"h":6},{"t":376,"m":72,"e":12,"g":29,"h":6},{"t":384,"m":74,"e":12,"g":31,"h":6},{"t":392,"m":70,"e":12,"g":30,"h":6},{"t":400,"m":72,"e":12,"g":28,"h":6},{"t":408,"m":68,"e":12,"g":29,"h":6},{"t":416,"m":70,"e":12,"g":27,"h":6},{"t":424,"m":66,"e":12,"g":28,"h":6},{"t":432,"m":69,"e":12,"g":26,"h":6},{"t":440,"m":64,"e":11,"g":28,"h":6},{"t":448,"m":67,"e":11,"g":27,"h":6},{"t":456,"m":62,"e":11,"g":25,"h":6},{"t":464,"m":65,"e":11,"g":27,"h":6},{"t":472,"m":60,"e":11,"g":26,"h":6},{"t":480,"m":63,"e":11,"g":24,"h":6},{"t":488,"m":58,"e":11,"g":26,"h":6},{"t":496,"m":62,"e":11,"g":25,"h":6},{"t":504,"m":56,"e":10,"g":27,"h":6},{"t":512,"m":60,"e":10,"g":29,"h":6},{"t":520,"m":55,"e":10,"g":30,"h":6},{"t":528,"m":58,"e":10,"g":28,"h":6},{"t":536,"m":53,"e":10,"g":30,"h":6},{"t":544,"m":56,"e":10,"g":29,"h":6},{"t":552,"m":51,"e":10,"g":31,"h":6},{"t":560,"m":54,"e":10,"g":29,"h":6},{"t":568,"m":49,"e":10,"g":30,"h":6},{"t":576,"m":52,"e":10,"g":28,"h":6},{"t":584,"m":47,"e":10,"g":29,"h":6},{"t":592,"m":50,"e":10,"g":27,"h":6},{"t":600,"m":46,"e":10,"g":29,"h":6},{"t":608,"m":48,"e":10,"g":28,"h":6},{"t":616,"m":44,"e":10,"g":30,"h":6},{"t":624,"m":47,"e":10,"g":28,"h":6},{"t":632,"m":42,"e":10,"g":29,"h":6},{"t":640,"m":45,"e":10,"g":27,"h":6},{"t":648,"m":41,"e":10,"g":28,"h":6},{"t":656,"m":44,"e":10,"g":26,"h":6},{"t":664,"m":40,"e":10,"g":28,"h":6},{"t":672,"m":43,"e":10,"g":27,"h":6},{"t":680,"m":39,"e":10,"g":29,"h":6},{"t":688,"m":42,"e":10,"g":27,"h":6},{"t":696,"m":40,"e":10,"g":28,"h":6},{"t":704,"m":43,"e":10,"g":26,"h":6},{"t":712,"m":39,"e":10,"g":28,"h":6},{"t":720,"m":41,"e":10,"g":27,"h":6}
],
"p6a": [
{"t":0,"m":175,"e":4,"g":150,"h":3},{"t":4,"m":32,"e":4,"g":28,"h":3},{"t":8,"m":24,"e":4,"g":22,"h":2},{"t":16,"m":20,"e":4,"g":18,"h":2},{"t":24,"m":23,"e":4,"g":16,"h":2},{"t":32,"m":18,"e":4,"g":19,"h":2},{"t":40,"m":21,"e":4,"g":15,"h":2},{"t":48,"m":17,"e":4,"g":18,"h":2},{"t":56,"m":19,"e":4,"g":16,"h":2},{"t":64,"m":15,"e":4,"g":17,"h":2},{"t":72,"m":20,"e":4,"g":15,"h":2},{"t":80,"m":22,"e":4,"g":18,"h":2},{"t":88,"m":19,"e":4,"g":17,"h":2},{"t":96,"m":24,"e":4,"g":19,"h":2},{"t":104,"m":21,"e":4,"g":18,"h":2},{"t":112,"m":25,"e":4,"g":20,"h":2},{"t":120,"m":27,"e":5,"g":19,"h":2},{"t":128,"m":32,"e":8,"g":21,"h":2},{"t":136,"m":42,"e":14,"g":20,"h":2},{"t":144,"m":52,"e":18,"g":22,"h":2},{"t":152,"m":66,"e":24,"g":21,"h":2},{"t":160,"m":80,"e":30,"g":23,"h":2},{"t":168,"m":94,"e":36,"g":24,"h":2},{"t":176,"m":108,"e":42,"g":23,"h":2},{"t":184,"m":114,"e":46,"g":25,"h":2},{"t":192,"m":110,"e":44,"g":26,"h":3},{"t":200,"m":116,"e":42,"g":28,"h":3},{"t":208,"m":108,"e":36,"g":30,"h":3},{"t":216,"m":104,"e":34,"g":32,"h":3},{"t":224,"m":98,"e":28,"g":36,"h":3},{"t":232,"m":94,"e":24,"g":40,"h":3},{"t":240,"m":90,"e":20,"g":37,"h":3},{"t":248,"m":86,"e":18,"g":35,"h":3},{"t":256,"m":82,"e":14,"g":38,"h":3},{"t":264,"m":80,"e":12,"g":36,"h":3},{"t":272,"m":74,"e":10,"g":34,"h":3},{"t":280,"m":68,"e":8,"g":35,"h":3},{"t":288,"m":60,"e":7,"g":30,"h":3},{"t":296,"m":52,"e":6,"g":28,"h":3},{"t":304,"m":46,"e":6,"g":26,"h":3},{"t":312,"m":44,"e":6,"g":25,"h":3},{"t":320,"m":40,"e":6,"g":26,"h":3},{"t":328,"m":43,"e":6,"g":24,"h":3},{"t":336,"m":38,"e":6,"g":25,"h":3},{"t":344,"m":42,"e":6,"g":24,"h":3},{"t":352,"m":37,"e":6,"g":26,"h":3},{"t":360,"m":41,"e":6,"g":25,"h":3},{"t":368,"m":38,"e":7,"g":27,"h":3},{"t":376,"m":43,"e":7,"g":26,"h":3},{"t":384,"m":39,"e":7,"g":28,"h":3},{"t":392,"m":44,"e":8,"g":27,"h":3},{"t":400,"m":40,"e":8,"g":29,"h":3},{"t":408,"m":46,"e":9,"g":28,"h":3},{"t":416,"m":43,"e":10,"g":27,"h":3},{"t":424,"m":45,"e":10,"g":29,"h":3},{"t":432,"m":40,"e":8,"g":27,"h":3},{"t":440,"m":42,"e":7,"g":26,"h":3},{"t":448,"m":36,"e":6,"g":25,"h":3},{"t":456,"m":34,"e":6,"g":24,"h":3},{"t":464,"m":37,"e":6,"g":26,"h":3},{"t":472,"m":33,"e":6,"g":24,"h":3},{"t":480,"m":36,"e":6,"g":25,"h":3},{"t":488,"m":32,"e":6,"g":24,"h":3},{"t":496,"m":35,"e":6,"g":26,"h":3},{"t":504,"m":31,"e":6,"g":24,"h":3},{"t":512,"m":34,"e":6,"g":25,"h":3},{"t":520,"m":30,"e":6,"g":24,"h":3},{"t":528,"m":33,"e":6,"g":26,"h":3},{"t":536,"m":30,"e":6,"g":25,"h":3},{"t":544,"m":34,"e":6,"g":24,"h":3},{"t":552,"m":29,"e":6,"g":26,"h":3},{"t":560,"m":33,"e":6,"g":25,"h":3},{"t":568,"m":30,"e":6,"g":24,"h":3},{"t":576,"m":34,"e":6,"g":26,"h":3},{"t":584,"m":29,"e":6,"g":25,"h":3},{"t":592,"m":32,"e":6,"g":24,"h":3},{"t":600,"m":30,"e":6,"g":26,"h":3},{"t":608,"m":34,"e":6,"g":25,"h":3},{"t":616,"m":29,"e":6,"g":27,"h":3},{"t":624,"m":33,"e":6,"g":25,"h":3},{"t":632,"m":30,"e":6,"g":26,"h":3},{"t":640,"m":34,"e":6,"g":25,"h":3},{"t":648,"m":29,"e":6,"g":27,"h":3},{"t":656,"m":33,"e":6,"g":25,"h":3},{"t":664,"m":30,"e":6,"g":26,"h":3},{"t":672,"m":35,"e":6,"g":28,"h":3},{"t":680,"m":30,"e":6,"g":26,"h":3},{"t":688,"m":34,"e":6,"g":27,"h":3},{"t":696,"m":31,"e":6,"g":25,"h":3},{"t":704,"m":35,"e":6,"g":28,"h":3},{"t":712,"m":30,"e":6,"g":26,"h":3},{"t":720,"m":33,"e":6,"g":28,"h":3}
]
},
"columns": 2,
"bounds": "flush",
"spacing": {"row": 91, "column": 90},
"concat": [
{"width": 265, "height": 264, "data": {"name": "p1"}, "title": {"text": "1", "dx": -12},
 "encoding": {"x": {"field": "t", "type": "quantitative", "scale": {"domain": [0, 720], "nice": false}, "axis": {"values": [0, 200, 400, 600], "tickCount": 20, "labelOverlap": false, "title": "Time (min)"}}},
 "layer": [
  {"mark": {"type": "errorbar", "color": "#404040", "thickness": 1.6, "clip": true}, "encoding": {"y": {"field": "m", "type": "quantitative", "scale": {"domain": [0, 500], "nice": false}, "axis": {"values": [0, 100, 200, 300, 400, 500], "tickCount": 20, "format": "d", "labelOverlap": false, "title": "Luninescences (RLU)"}}, "yError": {"field": "e"}}},
  {"mark": {"type": "errorbar", "color": "#9a9a9a", "thickness": 1.3, "clip": true}, "encoding": {"y": {"field": "g", "type": "quantitative", "axis": {"title": "Luninescences (RLU)"}}, "yError": {"field": "h"}}},
  {"mark": {"type": "line", "color": "#4d4d4d", "strokeWidth": 2.3, "clip": true}, "encoding": {"y": {"field": "g", "type": "quantitative", "axis": {"title": "Luninescences (RLU)"}}}},
  {"mark": {"type": "line", "color": "#000000", "strokeWidth": 2.8, "clip": true}, "encoding": {"y": {"field": "m", "type": "quantitative", "axis": {"title": "Luninescences (RLU)"}}}}
 ]},
{"width": 265, "height": 264, "data": {"name": "p2"}, "title": {"text": "2", "dx": -15},
 "encoding": {"x": {"field": "t", "type": "quantitative", "scale": {"domain": [0, 720], "nice": false}, "axis": {"values": [0, 200, 400, 600], "tickCount": 20, "labelOverlap": false, "title": "Time (min)"}}},
 "layer": [
  {"mark": {"type": "errorbar", "color": "#404040", "thickness": 1.6, "clip": true}, "encoding": {"y": {"field": "m", "type": "quantitative", "scale": {"domain": [0, 500], "nice": false}, "axis": {"values": [0, 100, 200, 300, 400, 500], "tickCount": 20, "format": "d", "labelOverlap": false, "title": "Luninescences (RLU)"}}, "yError": {"field": "e"}}},
  {"mark": {"type": "errorbar", "color": "#9a9a9a", "thickness": 1.3, "clip": true}, "encoding": {"y": {"field": "g", "type": "quantitative", "axis": {"title": "Luninescences (RLU)"}}, "yError": {"field": "h"}}},
  {"mark": {"type": "line", "color": "#4d4d4d", "strokeWidth": 2.3, "clip": true}, "encoding": {"y": {"field": "g", "type": "quantitative", "axis": {"title": "Luninescences (RLU)"}}}},
  {"mark": {"type": "line", "color": "#000000", "strokeWidth": 2.8, "clip": true}, "encoding": {"y": {"field": "m", "type": "quantitative", "axis": {"title": "Luninescences (RLU)"}}}}
 ]},
{"width": 265, "height": 264, "data": {"name": "p3"}, "title": {"text": "3", "dx": -10},
 "encoding": {"x": {"field": "t", "type": "quantitative", "scale": {"domain": [0, 720], "nice": false}, "axis": {"values": [0, 200, 400, 600], "tickCount": 20, "labelOverlap": false, "title": "Time (min)"}}},
 "layer": [
  {"mark": {"type": "errorbar", "color": "#404040", "thickness": 1.6, "clip": true}, "encoding": {"y": {"field": "m", "type": "quantitative", "scale": {"domain": [0, 1800], "nice": false}, "axis": {"values": [0, 200, 400, 600, 800, 1000, 1200, 1400, 1600, 1800], "tickCount": 20, "format": "d", "labelOverlap": false, "title": "Luninescences (RLU)"}}, "yError": {"field": "e"}}},
  {"mark": {"type": "errorbar", "color": "#9a9a9a", "thickness": 1.3, "clip": true}, "encoding": {"y": {"field": "g", "type": "quantitative", "axis": {"title": "Luninescences (RLU)"}}, "yError": {"field": "h"}}},
  {"mark": {"type": "line", "color": "#4d4d4d", "strokeWidth": 2.3, "clip": true}, "encoding": {"y": {"field": "g", "type": "quantitative", "axis": {"title": "Luninescences (RLU)"}}}},
  {"mark": {"type": "line", "color": "#000000", "strokeWidth": 2.8, "clip": true}, "encoding": {"y": {"field": "m", "type": "quantitative", "axis": {"title": "Luninescences (RLU)"}}}}
 ]},
{"width": 265, "height": 264, "data": {"name": "p4"}, "title": {"text": "4", "dx": -10},
 "encoding": {"x": {"field": "t", "type": "quantitative", "scale": {"domain": [0, 720], "nice": false}, "axis": {"values": [0, 200, 400, 600], "tickCount": 20, "labelOverlap": false, "title": "Time (min)"}}},
 "layer": [
  {"mark": {"type": "errorbar", "color": "#404040", "thickness": 1.6, "clip": true}, "encoding": {"y": {"field": "m", "type": "quantitative", "scale": {"domain": [0, 500], "nice": false}, "axis": {"values": [0, 100, 200, 300, 400, 500], "tickCount": 20, "format": "d", "labelOverlap": false, "title": "Luninescences (RLU)"}}, "yError": {"field": "e"}}},
  {"mark": {"type": "errorbar", "color": "#9a9a9a", "thickness": 1.3, "clip": true}, "encoding": {"y": {"field": "g", "type": "quantitative", "axis": {"title": "Luninescences (RLU)"}}, "yError": {"field": "h"}}},
  {"mark": {"type": "line", "color": "#4d4d4d", "strokeWidth": 2.3, "clip": true}, "encoding": {"y": {"field": "g", "type": "quantitative", "axis": {"title": "Luninescences (RLU)"}}}},
  {"mark": {"type": "line", "color": "#000000", "strokeWidth": 2.8, "clip": true}, "encoding": {"y": {"field": "m", "type": "quantitative", "axis": {"title": "Luninescences (RLU)"}}}}
 ]},
{"width": 265, "height": 264, "data": {"name": "p5b"}, "title": {"text": "5𝛽", "dx": -10},
 "encoding": {"x": {"field": "t", "type": "quantitative", "scale": {"domain": [0, 720], "nice": false}, "axis": {"values": [0, 200, 400, 600], "tickCount": 20, "labelOverlap": false, "title": "Time (min)"}}},
 "layer": [
  {"mark": {"type": "errorbar", "color": "#404040", "thickness": 1.6, "clip": true}, "encoding": {"y": {"field": "m", "type": "quantitative", "scale": {"domain": [0, 500], "nice": false}, "axis": {"values": [0, 100, 200, 300, 400, 500], "tickCount": 20, "format": "d", "labelOverlap": false, "title": "Luninescences (RLU)"}}, "yError": {"field": "e"}}},
  {"mark": {"type": "errorbar", "color": "#9a9a9a", "thickness": 1.3, "clip": true}, "encoding": {"y": {"field": "g", "type": "quantitative", "axis": {"title": "Luninescences (RLU)"}}, "yError": {"field": "h"}}},
  {"mark": {"type": "line", "color": "#4d4d4d", "strokeWidth": 2.3, "clip": true}, "encoding": {"y": {"field": "g", "type": "quantitative", "axis": {"title": "Luninescences (RLU)"}}}},
  {"mark": {"type": "line", "color": "#000000", "strokeWidth": 2.8, "clip": true}, "encoding": {"y": {"field": "m", "type": "quantitative", "axis": {"title": "Luninescences (RLU)"}}}}
 ]},
{"width": 265, "height": 264, "data": {"name": "p5a"}, "title": {"text": "5𝛼", "dx": -10},
 "encoding": {"x": {"field": "t", "type": "quantitative", "scale": {"domain": [0, 720], "nice": false}, "axis": {"values": [0, 200, 400, 600], "tickCount": 20, "labelOverlap": false, "title": "Time (min)"}}},
 "layer": [
  {"mark": {"type": "errorbar", "color": "#404040", "thickness": 1.6, "clip": true}, "encoding": {"y": {"field": "m", "type": "quantitative", "scale": {"domain": [0, 500], "nice": false}, "axis": {"values": [0, 100, 200, 300, 400, 500], "tickCount": 20, "format": "d", "labelOverlap": false, "title": "Luninescences (RLU)"}}, "yError": {"field": "e"}}},
  {"mark": {"type": "errorbar", "color": "#9a9a9a", "thickness": 1.3, "clip": true}, "encoding": {"y": {"field": "g", "type": "quantitative", "axis": {"title": "Luninescences (RLU)"}}, "yError": {"field": "h"}}},
  {"mark": {"type": "line", "color": "#4d4d4d", "strokeWidth": 2.3, "clip": true}, "encoding": {"y": {"field": "g", "type": "quantitative", "axis": {"title": "Luninescences (RLU)"}}}},
  {"mark": {"type": "line", "color": "#000000", "strokeWidth": 2.8, "clip": true}, "encoding": {"y": {"field": "m", "type": "quantitative", "axis": {"title": "Luninescences (RLU)"}}}}
 ]},
{"width": 265, "height": 264, "data": {"name": "p6b"}, "title": {"text": "6𝛽", "dx": -19},
 "encoding": {"x": {"field": "t", "type": "quantitative", "scale": {"domain": [0, 720], "nice": false, "range": [-11, 265]}, "axis": {"values": [0, 200, 400, 600], "tickCount": 20, "labelOverlap": false, "title": "Time (min)", "offset": -3}}},
 "layer": [
  {"mark": {"type": "errorbar", "color": "#404040", "thickness": 1.6, "clip": true}, "encoding": {"y": {"field": "m", "type": "quantitative", "scale": {"domain": [0, 500], "nice": false, "range": [261, 4]}, "axis": {"values": [0, 100, 200, 300, 400, 500], "tickCount": 20, "format": "d", "labelOverlap": false, "title": "Luminescence (RLU)", "offset": 11, "titlePadding": 1}}, "yError": {"field": "e"}}},
  {"mark": {"type": "errorbar", "color": "#a0a0a0", "thickness": 1.3, "clip": true}, "encoding": {"y": {"field": "g", "type": "quantitative", "axis": {"title": "Luminescence (RLU)"}}, "yError": {"field": "h"}}},
  {"mark": {"type": "line", "color": "#4d4d4d", "strokeWidth": 2.3, "clip": true}, "encoding": {"y": {"field": "g", "type": "quantitative", "axis": {"title": "Luminescence (RLU)"}}}},
  {"mark": {"type": "line", "color": "#000000", "strokeWidth": 2.8, "clip": true}, "encoding": {"y": {"field": "m", "type": "quantitative", "axis": {"title": "Luminescence (RLU)"}}}}
 ]},
{"width": 265, "height": 264, "data": {"name": "p6a"}, "title": {"text": "6𝛼", "dx": -17},
 "encoding": {"x": {"field": "t", "type": "quantitative", "scale": {"domain": [0, 720], "nice": false}, "axis": {"values": [0, 200, 400, 600], "tickCount": 20, "labelOverlap": false, "title": "Time (min)"}}},
 "layer": [
  {"mark": {"type": "errorbar", "color": "#404040", "thickness": 1.6, "clip": true}, "encoding": {"y": {"field": "m", "type": "quantitative", "scale": {"domain": [0, 500], "nice": false}, "axis": {"values": [0, 100, 200, 300, 400, 500], "tickCount": 20, "format": "d", "labelOverlap": false, "title": "Luninescences (RLU)"}}, "yError": {"field": "e"}}},
  {"mark": {"type": "errorbar", "color": "#9a9a9a", "thickness": 1.3, "clip": true}, "encoding": {"y": {"field": "g", "type": "quantitative", "axis": {"title": "Luninescences (RLU)"}}, "yError": {"field": "h"}}},
  {"mark": {"type": "line", "color": "#4d4d4d", "strokeWidth": 2.3, "clip": true}, "encoding": {"y": {"field": "g", "type": "quantitative", "axis": {"title": "Luninescences (RLU)"}}}},
  {"mark": {"type": "line", "color": "#000000", "strokeWidth": 2.8, "clip": true}, "encoding": {"y": {"field": "m", "type": "quantitative", "axis": {"title": "Luninescences (RLU)"}}}}
 ]}
]
}
